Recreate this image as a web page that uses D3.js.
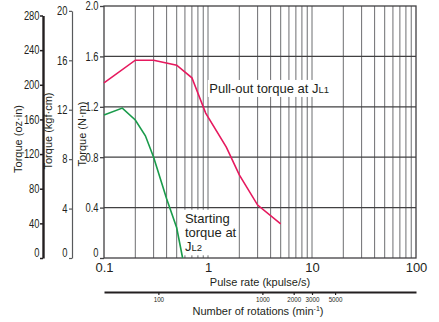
<!DOCTYPE html>
<html>
<head>
<meta charset="utf-8">
<script src="https://cdn.jsdelivr.net/npm/d3@7"></script>
<style>
  body { margin: 0; background: #fff; }
  svg text { font-family: "Liberation Sans", Arial, sans-serif; fill: #231f20; }
</style>
</head>
<body>
<div id="chart"></div>
<script>
// Data
const pulloutRate = [0.1, 0.2, 0.3, 0.5, 0.7, 0.95, 1.5, 2, 3, 5];
const pulloutTorque = [1.39, 1.57, 1.57, 1.53, 1.43, 1.15, 0.88, 0.66, 0.42, 0.27];
const startRate = [0.1, 0.15, 0.2, 0.25, 0.3, 0.4, 0.5, 0.57];
const startTorque = [1.135, 1.19, 1.095, 0.97, 0.8, 0.47, 0.24, 0];
const nmTicks = [0, 0.4, 0.8, 1.2, 1.6, 2.0];
const kgfTicks = [0, 4, 8, 12, 16, 20];
const ozTicks = [0, 40, 80, 120, 160, 200, 240, 280];
const rateTicks = [0.1, 1, 10, 100];
const rpmTicks = [100, 1000, 2000, 3000, 5000];

const width = 439, height = 322;
const plotLeft = 104, plotRight = 416, plotTop = 6, plotBottom = 258;

const svg = d3.select("#chart").append("svg")
    .attr("width", width).attr("height", height);

// Scales
const x = d3.scaleLog().domain([0.1, 100]).range([plotLeft, plotRight]);
const y = d3.scaleLinear().domain([0, 2.0]).range([plotBottom, plotTop]);
const kgf = d3.scaleLinear().domain([0, 20]).range([plotBottom, y(20 * 0.0980665)]);
const oz = d3.scaleLinear().domain([0, 280]).range([plotBottom, 15.5]);
const rpm = d3.scaleLog().domain([0.1 * 300, 100 * 300]).range([plotLeft, plotRight]);

// squeeze text horizontally (condensed look of the catalogue font)
function condense(sel, k) {
    sel.each(function () {
        const w = this.getComputedTextLength();
        d3.select(this).attr("textLength", w * k).attr("lengthAdjust", "spacingAndGlyphs");
    });
}

// Vertical grid lines
const minor = [];
[0.1, 1, 10].forEach(d => { for (let k = 1; k <= 9; k++) if (!(k === 1 && d === 0.1)) minor.push(d * k); });
svg.append("g").selectAll("line").data(minor).join("line")
    .attr("x1", d => x(d)).attr("x2", d => x(d))
    .attr("y1", plotTop).attr("y2", plotBottom)
    .attr("stroke", "#6d6e71").attr("stroke-width", 1);

// Horizontal grid lines
svg.append("g").selectAll("line").data(nmTicks.slice(1, -1)).join("line")
    .attr("x1", plotLeft).attr("x2", plotRight)
    .attr("y1", d => y(d)).attr("y2", d => y(d))
    .attr("stroke", "#414042").attr("stroke-width", 1.3);

// Frame
svg.append("rect")
    .attr("x", plotLeft).attr("y", plotTop)
    .attr("width", plotRight - plotLeft).attr("height", plotBottom - plotTop)
    .attr("fill", "none").attr("stroke", "#414042").attr("stroke-width", 1.3);

// Curves
const line = d3.line().x(d => x(d[0])).y(d => y(d[1]));
svg.append("path")
    .datum(d3.zip(pulloutRate, pulloutTorque))
    .attr("d", line).attr("fill", "none")
    .attr("stroke", "#e6195e").attr("stroke-width", 1.6);
svg.append("path")
    .datum(d3.zip(startRate, startTorque))
    .attr("d", line).attr("fill", "none")
    .attr("stroke", "#1a9b4b").attr("stroke-width", 1.6);

// Curve labels with white background
function label(xv, yv, lines) {
    const g = svg.append("g");
    const bg = g.append("rect").attr("fill", "#fff");
    const t = g.append("text").attr("font-size", 13);
    lines.forEach((ln, i) => {
        const row = t.append("tspan").attr("x", x(xv)).attr("y", y(yv) + i * 14.3);
        row.text(ln.text);
        if (ln.sub) row.append("tspan").attr("font-size", 9.5).text(ln.sub);
    });
    const b = t.node().getBBox();
    bg.attr("x", b.x - 1.5).attr("y", b.y - 1).attr("width", b.width + 3).attr("height", b.height + 2);
}
label(1.03, 1.31, [{ text: "Pull-out torque at J", sub: "L1" }]);
label(0.6, 0.28, [{ text: "Starting" }, { text: "torque at" }, { text: "J", sub: "L2" }]);

// N·m axis
const nmAxis = svg.append("g")
    .attr("transform", `translate(${plotLeft},0)`)
    .call(d3.axisLeft(y).tickValues(nmTicks).tickSize(4).tickSizeOuter(0)
        .tickFormat(d => d === 0 ? "0" : d3.format(".1f")(d)));
nmAxis.select(".domain").remove();
nmAxis.selectAll("line").attr("stroke", "#414042").attr("stroke-width", 1.3);
nmAxis.selectAll("text").attr("font-size", 12).attr("x", -5.5);

// kgf·cm axis
const kgfAxis = svg.append("g")
    .attr("transform", "translate(72,0)")
    .call(d3.axisLeft(kgf).tickValues(kgfTicks).tickSize(3).tickSizeOuter(0));
kgfAxis.select(".domain").attr("stroke", "#58595b").attr("stroke-width", 1.2);
kgfAxis.selectAll("line").attr("stroke", "#58595b").attr("stroke-width", 1.2);
kgfAxis.selectAll("text").attr("font-size", 12).attr("x", -4.5);

// oz·in axis
const ozAxis = svg.append("g")
    .attr("transform", "translate(43,0)")
    .call(d3.axisLeft(oz).tickValues(ozTicks).tickSize(3).tickSizeOuter(0));
ozAxis.select(".domain").attr("stroke", "#231f20").attr("stroke-width", 2.4);
ozAxis.selectAll("line").attr("stroke", "#231f20").attr("stroke-width", 1.5);
ozAxis.selectAll("text").attr("font-size", 12).attr("x", -3.5);

[nmAxis, kgfAxis, ozAxis].forEach(a => {
    condense(a.selectAll("text"), 0.78);
    // zero labels sit just above the base line
    a.selectAll(".tick text").filter(d => d === 0).attr("dy", "-0.1em");
});

// Axis titles
function vtitle(cx, cy, txt) {
    svg.append("text")
        .attr("transform", `translate(${cx},${cy}) rotate(-90)`)
        .attr("text-anchor", "middle").attr("font-size", 11)
        .text(txt);
}
vtitle(21.5, 139, "Torque (oz\u00b7in)");
vtitle(52, 131, "Torque (kgf\u00b7cm)");
vtitle(86, 134, "Torque (N\u00b7m)");

// Pulse rate axis
const xAxis = svg.append("g")
    .attr("transform", `translate(0,${plotBottom})`)
    .call(d3.axisBottom(x).tickValues(rateTicks).tickSize(0).tickFormat(d3.format("")));
xAxis.select(".domain").remove();
xAxis.selectAll("text").attr("font-size", 13).attr("y", 4.8);

svg.append("text")
    .attr("x", 260).attr("y", 286)
    .attr("text-anchor", "middle").attr("font-size", 11)
    .text("Pulse rate (kpulse/s)");

// Rotation axis
const rAxis = svg.append("g")
    .attr("transform", "translate(0,292)")
    .call(d3.axisBottom(rpm).tickValues(rpmTicks).tickSize(3).tickSizeOuter(0).tickFormat(d3.format("")));
rAxis.select(".domain").attr("stroke", "#231f20").attr("stroke-width", 1.8);
rAxis.selectAll("line").attr("stroke", "#231f20").attr("stroke-width", 1.2);
rAxis.selectAll("text").attr("font-size", 8).attr("y", 4.5);
condense(rAxis.selectAll("text"), 0.78);

const rt = svg.append("text")
    .attr("x", 258).attr("y", 315)
    .attr("text-anchor", "middle").attr("font-size", 11)
    .text("Number of rotations (min");
rt.append("tspan").attr("font-size", 7).attr("dy", -4).text("-1");
rt.append("tspan").attr("dy", 4).text(")");
</script>
</body>
</html>
